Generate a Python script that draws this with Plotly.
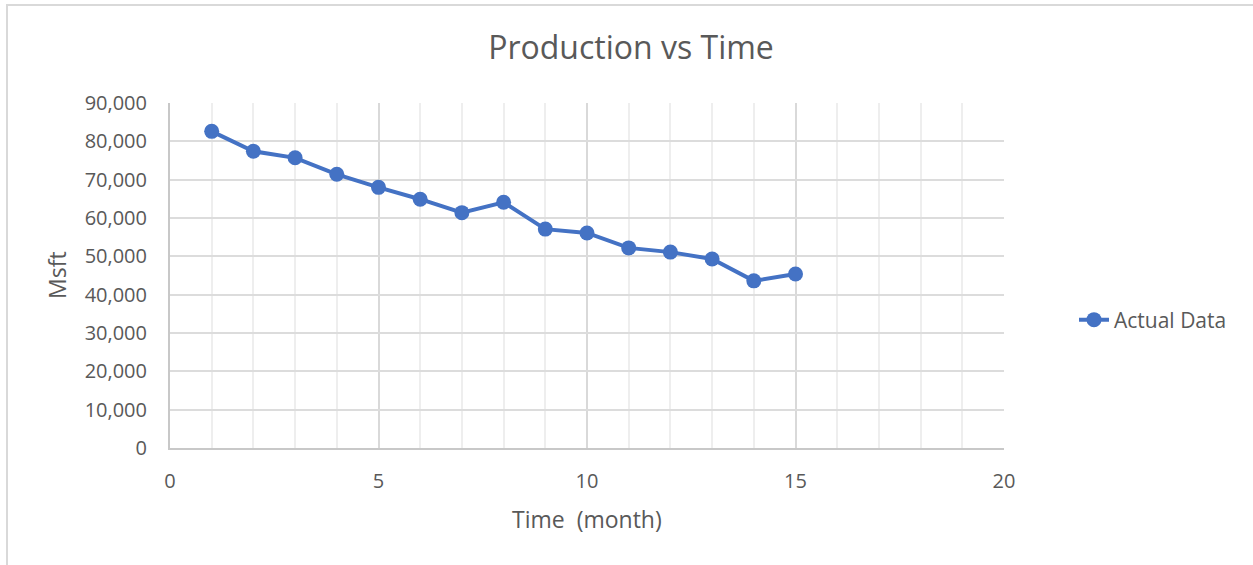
import plotly.graph_objects as go

# Monthly production readings
months = [1, 2, 3, 4, 5, 6, 7, 8, 9, 10, 11, 12, 13, 14, 15]
production = [82600, 77400, 75700, 71400, 68000, 64900, 61400, 64100,
              57100, 56100, 52200, 51100, 49300, 43600, 45400]

x_ticks = [0, 5, 10, 15, 20]
y_ticks = [0, 10000, 20000, 30000, 40000, 50000, 60000, 70000, 80000, 90000]
y_tick_text = [f"{v:,}" for v in y_ticks]

FONT = "Open Sans"
TEXT = "#595959"
BLUE = "#4472C4"

fig = go.Figure()
fig.add_trace(go.Scatter(
    x=months, y=production, mode="lines+markers", name="Actual Data",
    line=dict(color=BLUE, width=4),
    marker=dict(color=BLUE, size=15),
))

W, H = 1253, 565
L, R, T, B = 170, 249, 103, 117
pw, ph = W - L - R, H - T - B

def px_x(p):
    return (p - L) / pw

def px_y(p):
    return (H - B - p) / ph

fig.update_layout(
    width=W, height=H,
    margin=dict(l=L, r=R, t=T, b=B),
    paper_bgcolor="white", plot_bgcolor="white",
    font=dict(family=FONT, color=TEXT),
    showlegend=True,
    legend=dict(x=px_x(1074), y=px_y(320), xanchor="left", yanchor="middle",
                font=dict(size=21, color=TEXT, family=FONT),
                bgcolor="rgba(0,0,0,0)"),
    title=dict(text="Production vs Time", x=631 / W, xref="container",
               xanchor="center", y=1 - 48 / H, yanchor="middle",
               font=dict(size=32, color=TEXT, family=FONT)),
    xaxis=dict(
        range=[0, 20], tickvals=x_ticks, ticktext=[str(v) for v in x_ticks],
        showgrid=True, gridcolor="#d9d9d9", gridwidth=1.5,
        minor=dict(dtick=1, showgrid=True, gridcolor="#eeeeee", gridwidth=1.5),
        showline=True, linecolor="#c8c8c8", linewidth=2,
        zeroline=False, ticks="", ticklabelstandoff=14,
        tickfont=dict(size=20, color=TEXT, family=FONT),
        fixedrange=True,
    ),
    yaxis=dict(
        range=[0, 90000], tickvals=y_ticks, ticktext=y_tick_text,
        showgrid=True, gridcolor="#dcdcdc", gridwidth=1.5,
        showline=True, linecolor="#c8c8c8", linewidth=2,
        zeroline=False, ticks="", ticklabelstandoff=17,
        tickfont=dict(size=20, color=TEXT, family=FONT),
        fixedrange=True,
    ),
    annotations=[
        dict(text="Time  (month)", xref="paper", yref="paper",
             x=px_x(587), y=px_y(519), xanchor="center", yanchor="middle",
             showarrow=False,
             font=dict(size=23, color=TEXT, family=FONT)),
        dict(text="Msft", xref="paper", yref="paper", textangle=-90,
             x=px_x(57), y=px_y(275), xanchor="center", yanchor="middle",
             showarrow=False,
             font=dict(size=23, color=TEXT, family=FONT)),
    ],
    shapes=[
        dict(type="line", xref="paper", yref="paper",
             x0=px_x(6), x1=px_x(1253), y0=px_y(5), y1=px_y(5),
             line=dict(color="#d9d9d9", width=2)),
        dict(type="line", xref="paper", yref="paper",
             x0=px_x(7), x1=px_x(7), y0=px_y(5), y1=px_y(565),
             line=dict(color="#d9d9d9", width=2)),
    ],
)

fig.write_html("out.html", config={"displayModeBar": False})
